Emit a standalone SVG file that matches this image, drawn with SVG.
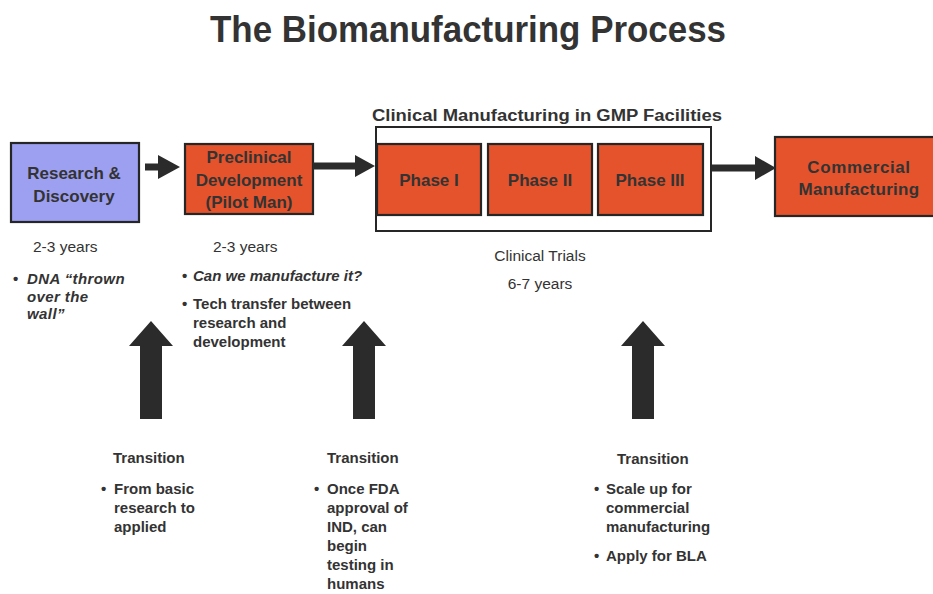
<svg xmlns="http://www.w3.org/2000/svg" width="933" height="594" viewBox="0 0 933 594">
  <style>
    .box { stroke: #262626; stroke-width: 2.2; }
    .orange { fill: #e4532c; }
    .blue { fill: #9d9ff0; }
    .frame { fill: #ffffff; stroke: #262626; stroke-width: 2; }
    .btxt { font-family: "Liberation Sans", Arial, sans-serif; font-weight: bold; font-size: 17px; fill: #333333; text-anchor: middle; }
    .title { font-family: "Liberation Sans", Arial, sans-serif; font-weight: bold; font-size: 36px; fill: #333333; text-anchor: middle; }
    .sub { font-family: "Liberation Sans", Arial, sans-serif; font-weight: bold; font-size: 16px; fill: #333333; }
    .reg { font-family: "Liberation Sans", Arial, sans-serif; font-size: 15.5px; fill: #333333; }
    .bold { font-family: "Liberation Sans", Arial, sans-serif; font-weight: bold; font-size: 15px; fill: #333333; }
    .bi { font-family: "Liberation Sans", Arial, sans-serif; font-weight: bold; font-style: italic; font-size: 15px; fill: #333333; }
    .arrow { fill: #2b2b2b; }
  </style>

  <text class="title" x="468" y="42" textLength="516" lengthAdjust="spacingAndGlyphs">The Biomanufacturing Process</text>

  <!-- Clinical manufacturing frame -->
  <g id="gmp-frame">
    <text class="sub" x="372" y="121" textLength="350" lengthAdjust="spacingAndGlyphs">Clinical Manufacturing in GMP Facilities</text>
    <rect class="frame" x="376" y="127" width="335" height="104"/>
  </g>

  <g id="research">
    <rect class="box blue" x="11" y="143" width="128" height="79"/>
    <text class="btxt" x="74" y="179">Research &amp;</text>
    <text class="btxt" x="74" y="202">Discovery</text>
  </g>

  <g id="preclinical">
    <rect class="box orange" x="185" y="144" width="128" height="70"/>
    <text class="btxt" x="249" y="163">Preclinical</text>
    <text class="btxt" x="249" y="186">Development</text>
    <text class="btxt" x="249" y="208">(Pilot Man)</text>
  </g>

  <g id="phase1">
    <rect class="box orange" x="377" y="144" width="104" height="71"/>
    <text class="btxt" x="429" y="186">Phase I</text>
  </g>
  <g id="phase2">
    <rect class="box orange" x="488" y="144" width="104" height="71"/>
    <text class="btxt" x="540" y="186">Phase II</text>
  </g>
  <g id="phase3">
    <rect class="box orange" x="598" y="144" width="105" height="71"/>
    <text class="btxt" x="650" y="186">Phase III</text>
  </g>

  <g id="commercial">
    <rect class="box orange" x="775" y="137" width="170" height="79"/>
    <text class="btxt" x="859" y="173" letter-spacing="0.6">Commercial</text>
    <text class="btxt" x="859" y="195" letter-spacing="0.3">Manufacturing</text>
  </g>

  <!-- flow arrows and transition arrows -->
  <g id="connectors">
    <polygon class="arrow" points="145,163.5 158,163.5 158,155 180,167 158,179 158,170.5 145,170.5"/>
    <polygon class="arrow" points="313,162.5 355,162.5 355,155 375,166 355,177 355,169.5 313,169.5"/>
    <polygon class="arrow" points="712,164.5 755,164.5 755,156 776,168 755,180 755,171.5 712,171.5"/>

    <polygon class="arrow" points="151,321 173,346 162,346 162,419 140,419 140,346 129,346"/>
    <polygon class="arrow" points="364,321 386,346 375,346 375,419 353,419 353,346 342,346"/>
    <polygon class="arrow" points="643,321 665,346 654,346 654,419 632,419 632,346 621,346"/>
  </g>

  <!-- stage notes -->
  <g id="research-notes">
    <text class="reg" x="33" y="252">2-3 years</text>
    <text class="bold" x="13" y="284">•</text>
    <text class="bi" x="27" y="284" letter-spacing="0.4">DNA “thrown</text>
    <text class="bi" x="27" y="302" letter-spacing="0.4">over the</text>
    <text class="bi" x="27" y="319" letter-spacing="0.4">wall”</text>
  </g>

  <g id="preclinical-notes">
    <text class="reg" x="213" y="252">2-3 years</text>
    <text class="bold" x="182" y="281">•</text>
    <text class="bi" x="193" y="281">Can we manufacture it?</text>
    <text class="bold" x="182" y="309">•</text>
    <text class="bold" x="193" y="309">Tech transfer between</text>
    <text class="bold" x="193" y="328">research and</text>
    <text class="bold" x="193" y="347">development</text>
  </g>

  <g id="clinical-notes">
    <text class="reg" x="540" y="261" text-anchor="middle">Clinical Trials</text>
    <text class="reg" x="540" y="289" text-anchor="middle">6-7 years</text>
  </g>

  <g id="transition-1">
    <text class="bold" x="113" y="463">Transition</text>
    <text class="bold" x="101" y="494">•</text>
    <text class="bold" x="114" y="494">From basic</text>
    <text class="bold" x="114" y="513">research to</text>
    <text class="bold" x="114" y="532">applied</text>
  </g>

  <g id="transition-2">
    <text class="bold" x="327" y="463">Transition</text>
    <text class="bold" x="314" y="494">•</text>
    <text class="bold" x="327" y="494">Once FDA</text>
    <text class="bold" x="327" y="513">approval of</text>
    <text class="bold" x="327" y="532">IND, can</text>
    <text class="bold" x="327" y="551">begin</text>
    <text class="bold" x="327" y="570">testing in</text>
    <text class="bold" x="327" y="589">humans</text>
  </g>

  <g id="transition-3">
    <text class="bold" x="617" y="464">Transition</text>
    <text class="bold" x="594" y="494">•</text>
    <text class="bold" x="606" y="494">Scale up for</text>
    <text class="bold" x="606" y="513">commercial</text>
    <text class="bold" x="606" y="532">manufacturing</text>
    <text class="bold" x="594" y="561">•</text>
    <text class="bold" x="606" y="561">Apply for BLA</text>
  </g>
</svg>
